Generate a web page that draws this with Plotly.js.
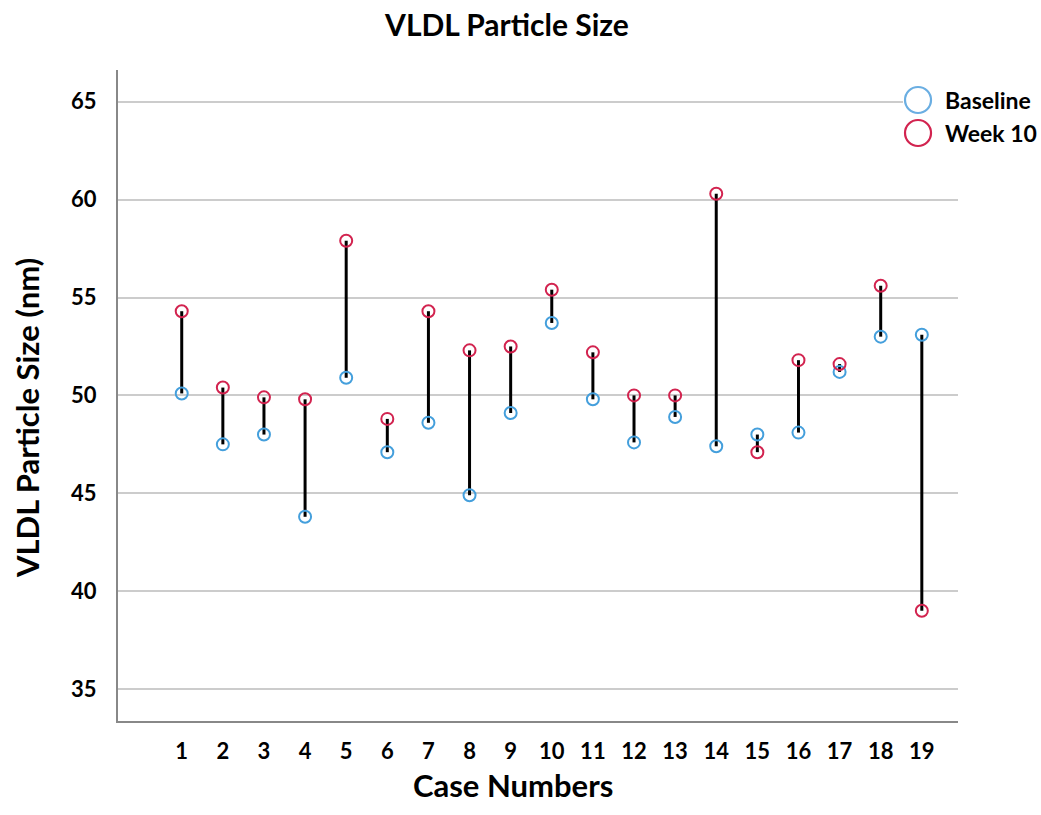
<!DOCTYPE html>
<html>
<head>
<meta charset="utf-8">
<script src="https://cdn.plot.ly/plotly-3.0.1.min.js"></script>
<style>html,body{margin:0;padding:0;background:#fff;}#chart{width:1041px;height:815px;}</style>
</head>
<body>
<div id="chart"></div>
<script>
const cases = [1,2,3,4,5,6,7,8,9,10,11,12,13,14,15,16,17,18,19];
const baseline = [50.1,47.5,48.0,43.8,50.9,47.1,48.6,44.9,49.1,53.7,49.8,47.6,48.9,47.4,48.0,48.1,51.2,53.0,53.1];
const week10 = [54.3,50.4,49.9,49.8,57.9,48.8,54.3,52.3,52.5,55.4,52.2,50.0,50.0,60.3,47.1,51.8,51.6,55.6,39.0];
const yTicks = [35,40,45,50,55,60,65];
const seriesNames = ['Baseline', 'Week 10'];
const seriesColors = ['#449fdc', '#d2234f'];

// connector segments between baseline and week 10 for each case
const segX = [], segY = [];
cases.forEach((c, i) => {
  segX.push(c, c, null);
  segY.push(baseline[i], week10[i], null);
});

const font = "Lato, 'Open Sans', sans-serif";

const traces = [
  {x: segX, y: segY, mode: 'lines', line: {color: '#000', width: 3}, showlegend: false, hoverinfo: 'skip'},
  {x: cases, y: baseline, name: seriesNames[0], mode: 'markers', type: 'scatter',
   marker: {symbol: 'circle-open', size: 12, color: seriesColors[0], line: {width: 2, color: seriesColors[0]}}},
  {x: cases, y: week10, name: seriesNames[1], mode: 'markers', type: 'scatter',
   marker: {symbol: 'circle-open', size: 12, color: seriesColors[1], line: {width: 2, color: seriesColors[1]}}}
];

// legend drawn as shapes + annotations (large circles as in the reference)
const legY = [0.9539, 0.9032];
const shapes = [
  {type: 'rect', xref: 'paper', yref: 'paper', x0: 0.9345, x1: 1.0, y0: 0.880, y1: 0.9724,
   fillcolor: '#fff', line: {width: 0}, layer: 'above'}
];
const legendColors = ['#6aaee2', '#d2234f'];
const annotations = [];
seriesNames.forEach((n, i) => {
  shapes.push({type: 'circle', xref: 'paper', yref: 'paper', xsizemode: 'pixel', ysizemode: 'pixel',
    xanchor: 0.9524, yanchor: legY[i], x0: -13, x1: 13, y0: -13, y1: 13,
    line: {color: legendColors[i], width: 2.2}, fillcolor: 'rgba(0,0,0,0)', layer: 'above'});
  annotations.push({text: '<b>' + n + '</b>', xref: 'paper', yref: 'paper', x: 0.9821, y: legY[i],
    xanchor: 'left', yanchor: 'middle', showarrow: false, font: {family: font, size: 23, color: '#000'}});
});
// axis titles
annotations.push({text: '<b>VLDL Particle Size (nm)</b>', xref: 'paper', yref: 'paper', x: -0.1083, y: 0.4654,
  textangle: -90, xanchor: 'center', yanchor: 'middle', showarrow: false, font: {family: font, size: 31, color: '#000'}});
annotations.push({text: '<b>Case Numbers</b>', xref: 'paper', yref: 'paper', x: 0.4702, y: -0.0983,
  xanchor: 'center', yanchor: 'middle', showarrow: false, font: {family: font, size: 31, color: '#000'}});

const layout = {
  width: 1041, height: 815,
  paper_bgcolor: '#fff', plot_bgcolor: '#fff',
  margin: {l: 118, r: 83, t: 70, b: 94, autoexpand: false},
  font: {family: font, color: '#000', size: 17},
  title: {text: '<b>VLDL Particle Size</b>', x: 0.487, xref: 'container', y: 0.969, yref: 'container', yanchor: 'middle',
          font: {family: font, size: 30, color: '#000'}},
  xaxis: {
    range: [-0.55, 19.88], tickvals: cases, ticktext: cases.map(String),
    showgrid: false, zeroline: false, showline: true, linecolor: '#888', linewidth: 2,
    ticks: '', ticklabelstandoff: 10,
    tickfont: {family: font, size: 22, color: '#000', weight: 'bold'}
  },
  yaxis: {
    range: [33.37, 66.62], tickvals: yTicks,
    showgrid: true, gridcolor: '#cccccc', gridwidth: 2, zeroline: false,
    showline: true, linecolor: '#888', linewidth: 2,
    ticks: '', ticklabelstandoff: 15,
    tickfont: {family: font, size: 22, color: '#000', weight: 'bold'}
  },
  shapes: shapes,
  annotations: annotations,
  showlegend: false
};

Plotly.newPlot('chart', traces, layout, {displayModeBar: false, staticPlot: true});
</script>
</body>
</html>
